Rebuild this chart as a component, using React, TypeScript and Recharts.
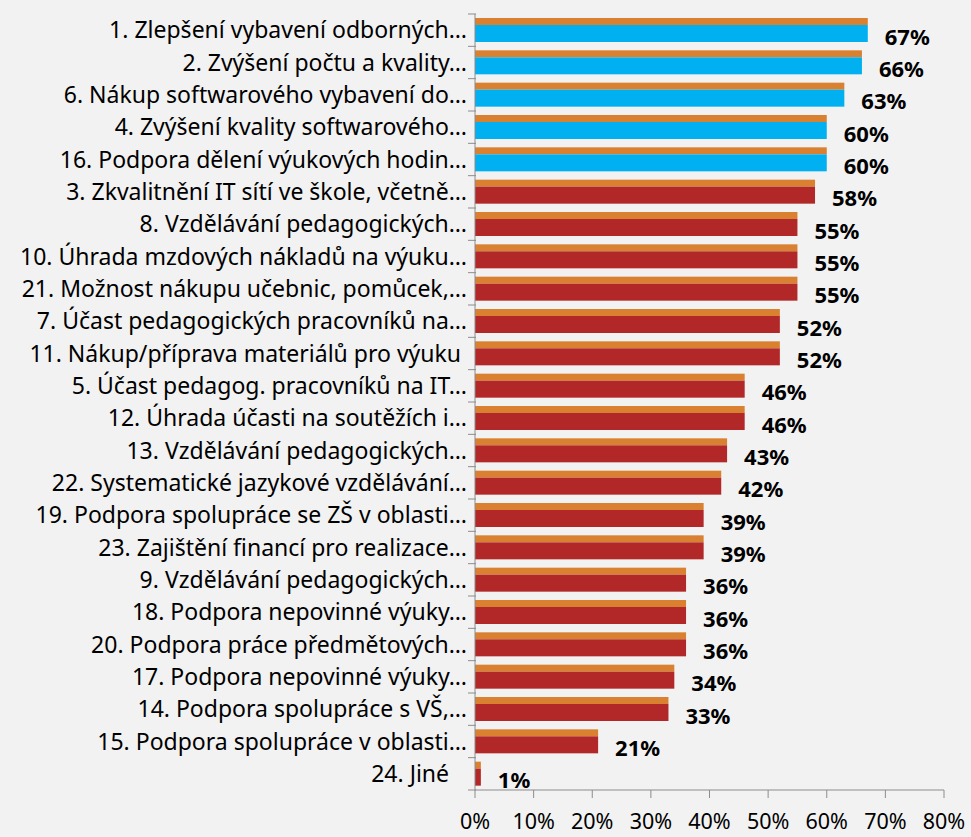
import { BarChart, Bar, XAxis, YAxis, LabelList } from 'recharts';

document.body.style.margin = '0';

const categories = [
  '1. Zlepšení vybavení odborných…',
  '2. Zvýšení počtu a kvality…',
  '6. Nákup softwarového vybavení do…',
  '4. Zvýšení kvality softwarového…',
  '16. Podpora dělení výukových hodin…',
  '3. Zkvalitnění IT sítí ve škole, včetně…',
  '8. Vzdělávání pedagogických…',
  '10. Úhrada mzdových nákladů na výuku…',
  '21. Možnost nákupu učebnic, pomůcek,…',
  '7. Účast pedagogických pracovníků na…',
  '11. Nákup/příprava materiálů pro výuku\u00a0',
  '5. Účast pedagog. pracovníků na IT…',
  '12. Úhrada účasti na soutěžích i…',
  '13. Vzdělávání pedagogických…',
  '22. Systematické jazykové vzdělávání…',
  '19. Podpora spolupráce se ZŠ v oblasti…',
  '23. Zajištění financí pro realizace…',
  '9. Vzdělávání pedagogických…',
  '18. Podpora nepovinné výuky…',
  '20. Podpora práce předmětových…',
  '17. Podpora nepovinné výuky…',
  '14. Podpora spolupráce s VŠ,…',
  '15. Podpora spolupráce v oblasti…',
  '24. Jiné\u00a0\u00a0\u00a0',
];
const values = [67, 66, 63, 60, 60, 58, 55, 55, 55, 52, 52, 46, 46, 43, 42, 39, 39, 36, 36, 36, 34, 33, 21, 1];
const highlighted = [true, true, true, true, true];
const xTicks = [0, 10, 20, 30, 40, 50, 60, 70, 80];

const data = categories.map((name, i) => ({ name, value: values[i], hi: !!highlighted[i] }));

const AXIS = '#8c8c8c';
const FONT = '"Noto Sans", sans-serif';
const band = 776 / categories.length;

function BarShape(props: any) {
  const { x, y, width, height, payload } = props;
  if (!width || width <= 0) return null;
  const strip = 7;
  return (
    <g>
      <rect x={x} y={y} width={width} height={strip} fill="#D98031" />
      <rect x={x} y={y + strip} width={width} height={height - strip} fill={payload.hi ? '#00B0F0' : '#B22727'} />
    </g>
  );
}

function YTick(props: any) {
  const { x, y, payload, index } = props;
  const ax = x + 9;
  return (
    <g>
      <line x1={ax - 8} x2={ax} y1={y - band / 2} y2={y - band / 2} stroke={AXIS} />
      {index === categories.length - 1 && (
        <line x1={ax - 8} x2={ax} y1={y + band / 2} y2={y + band / 2} stroke={AXIS} />
      )}
      <text x={x} y={y} dy={8} textAnchor="end" fontSize={23} fontFamily={FONT} fill="#000">
        {payload.value}
      </text>
    </g>
  );
}

function XTick(props: any) {
  const { x, y, payload } = props;
  return (
    <text x={x} y={y} dy={29} textAnchor="middle" fontSize={21.5} fontFamily={FONT} fill="#000">
      {`${payload.value}%`}
    </text>
  );
}

export default function App() {
  return (
    <div style={{ background: '#f2f2f2', width: 971, height: 837 }}>
      <BarChart
        width={971}
        height={837}
        data={data}
        layout="vertical"
        barCategoryGap={8}
        margin={{ top: 14, right: 27, bottom: 7, left: 0 }}
      >
        <XAxis
          type="number"
          domain={[0, 80]}
          ticks={xTicks}
          axisLine={{ stroke: AXIS }}
          tickLine={{ stroke: AXIS }}
          tickSize={8}
          height={40}
          tick={<XTick />}
          interval={0}
        />
        <YAxis
          type="category"
          dataKey="name"
          width={475}
          axisLine={{ stroke: AXIS }}
          tickLine={false}
          tick={<YTick />}
          interval={0}
        />
        <Bar dataKey="value" barSize={24} shape={<BarShape />} isAnimationActive={false}>
          <LabelList
            dataKey="value"
            position="right"
            offset={17}
            formatter={(v: any) => `${v}%`}
            style={{ fontSize: 22, fontWeight: 'bold', fontFamily: FONT, fill: '#000' }}
            dy={7}
          />
        </Bar>
      </BarChart>
    </div>
  );
}
